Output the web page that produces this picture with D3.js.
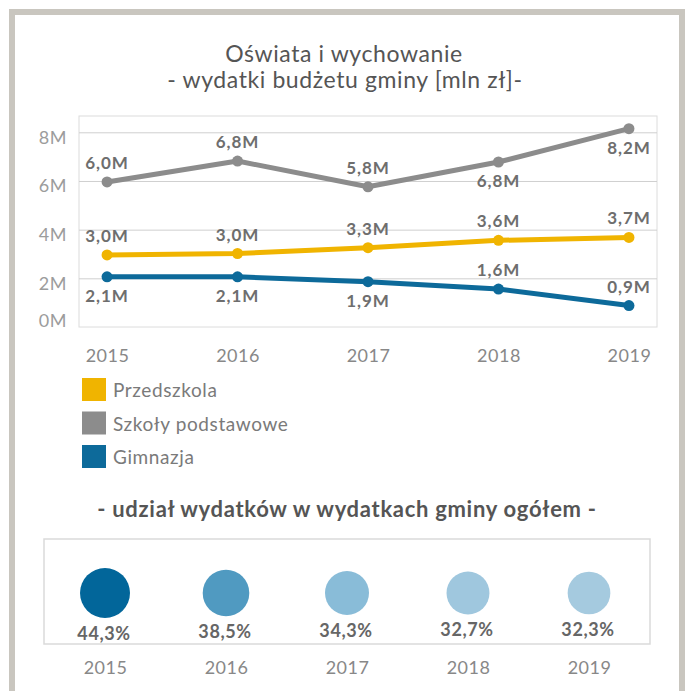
<!DOCTYPE html>
<html>
<head>
<meta charset="utf-8">
<script src="https://cdn.jsdelivr.net/npm/d3@7"></script>
<style>
  body { margin: 0; background: #fff; }
  svg { display: block; font-family: Lato, "Open Sans", sans-serif; }
</style>
</head>
<body>
<div class="chart-container"></div>
<script>
// Data
const years = [2015, 2016, 2017, 2018, 2019];
const przedszkola = [2.96, 3.02, 3.26, 3.56, 3.68];
const szkoly = [5.96, 6.82, 5.76, 6.78, 8.15];
const gimnazja = [2.06, 2.06, 1.86, 1.56, 0.88];
const yTicks = [0, 2, 4, 6, 8];
const udzial = [44.3, 38.5, 34.3, 32.7, 32.3];

const seriesNames = ['Przedszkola', 'Szkoły podstawowe', 'Gimnazja'];

const series = [
    { name: seriesNames[1], values: szkoly, color: '#8c8c8c', pos: ['up', 'up', 'up', 'down', 'down'] },
    { name: seriesNames[0], values: przedszkola, color: '#f0b400', pos: ['up', 'up', 'up', 'up', 'up'] },
    { name: seriesNames[2], values: gimnazja, color: '#0d6a9a', pos: ['down', 'down', 'down', 'up', 'up'] }
];
const legendColors = { 'Przedszkola': '#f0b400', 'Szkoły podstawowe': '#8c8c8c', 'Gimnazja': '#0d6a9a' };

const W = 686, H = 691;
const fmt = v => d3.format('.1f')(v).replace('.', ',');

const svg = d3.select('.chart-container')
    .append('svg')
    .attr('width', W)
    .attr('height', H);

// Outer frame
svg.append('rect')
    .attr('x', 12).attr('y', 12)
    .attr('width', 670).attr('height', 720)
    .attr('fill', 'none')
    .attr('stroke', '#c9c6bf')
    .attr('stroke-width', 6);

// Titles
const title = svg.append('text')
    .attr('text-anchor', 'middle')
    .attr('fill', '#555')
    .style('font-size', '23px')
    .style('letter-spacing', '0.6px');
title.append('tspan').attr('x', 344).attr('y', 62).text('Oświata i wychowanie');
title.append('tspan').attr('x', 345).attr('y', 88).text('- wydatki budżetu gminy [mln zł]-');

// Line chart
const plot = { left: 79, right: 657, top: 116, bottom: 327 };

const xScale = d3.scalePoint()
    .domain(years)
    .range([plot.left, plot.right])
    .padding(0.215);

const yScale = d3.scaleLinear()
    .domain([0, 8.67])
    .range([plot.bottom, plot.top]);

// frame of plot
svg.append('rect')
    .attr('x', plot.left).attr('y', plot.top)
    .attr('width', plot.right - plot.left)
    .attr('height', plot.bottom - plot.top)
    .attr('fill', 'none')
    .attr('stroke', '#dcdcdc');

// gridlines
const grid = svg.append('g')
    .attr('transform', `translate(${plot.left},0)`)
    .call(d3.axisLeft(yScale)
        .tickValues(yTicks.filter(d => d > 0))
        .tickSize(-(plot.right - plot.left))
        .tickFormat(''));
grid.select('.domain').remove();
grid.selectAll('line').attr('stroke', '#cfcfcf');

// y axis labels
const yAxis = svg.append('g')
    .attr('transform', `translate(${plot.left - 12},0)`)
    .call(d3.axisLeft(yScale).tickValues(yTicks).tickSize(0).tickFormat(d => d + 'M'));
yAxis.select('.domain').remove();
yAxis.selectAll('text')
    .attr('x', 0)
    .attr('dy', d => d === 0 ? '-0.05em' : '0.6em')
    .attr('fill', '#9c9c9c')
    .style('font-size', '18px')
    .style('font-family', 'Lato')
    .style('letter-spacing', '0.6px');

// x axis labels
const xAxis = svg.append('g')
    .attr('transform', `translate(0,${plot.bottom})`)
    .call(d3.axisBottom(xScale).tickSize(0));
xAxis.select('.domain').remove();
xAxis.selectAll('text')
    .attr('y', 35)
    .attr('dy', 0)
    .attr('fill', '#888')
    .style('font-size', '18px')
    .style('font-family', 'Lato')
    .style('letter-spacing', '0.5px');

// Lines
const line = d3.line()
    .x((d, i) => xScale(years[i]))
    .y(d => yScale(d));

series.forEach(s => {
    svg.append('path')
        .datum(s.values)
        .attr('d', line)
        .attr('fill', 'none')
        .attr('stroke', s.color)
        .attr('stroke-width', 5)
        .attr('stroke-linejoin', 'round');

    svg.selectAll(null)
        .data(s.values)
        .join('circle')
        .attr('cx', (d, i) => xScale(years[i]))
        .attr('cy', d => yScale(d))
        .attr('r', 5.5)
        .attr('fill', s.color);
});

series.forEach(s => {
    svg.selectAll(null)
        .data(s.values)
        .join('text')
        .attr('x', (d, i) => xScale(years[i]))
        .attr('y', (d, i) => yScale(d) + (s.pos[i] === 'up' ? -13 : 25))
        .attr('text-anchor', 'middle')
        .attr('fill', '#6e6e6e')
        .style('font-size', '17px')
        .style('font-weight', 'bold')
        .style('letter-spacing', '0.9px')
        .text(d => fmt(d) + 'M');
});

// Legend
const legend = svg.append('g')
    .attr('transform', 'translate(82,378)');
const legendItem = legend.selectAll('g')
    .data(seriesNames)
    .join('g')
    .attr('transform', (d, i) => `translate(0,${i * 33.5})`);
legendItem.append('rect')
    .attr('width', 24).attr('height', 23)
    .attr('fill', d => legendColors[d]);
legendItem.append('text')
    .attr('x', 31).attr('y', 19)
    .attr('fill', '#7a7a7a')
    .style('font-size', '19px')
    .style('letter-spacing', '0.6px')
    .text(d => d);

// Share section
svg.append('text')
    .attr('x', 347).attr('y', 517)
    .attr('text-anchor', 'middle')
    .attr('fill', '#555')
    .style('font-size', '22px')
    .style('font-weight', 'bold')
    .style('letter-spacing', '0.7px')
    .text('- udział wydatków w wydatkach gminy ogółem -');

const box = { left: 44, right: 650, top: 539, bottom: 644 };
svg.append('rect')
    .attr('x', box.left).attr('y', box.top)
    .attr('width', box.right - box.left)
    .attr('height', box.bottom - box.top)
    .attr('fill', 'none')
    .attr('stroke', '#dadada')
    .attr('stroke-width', 1.5);

const xShare = d3.scalePoint()
    .domain(years)
    .range([105, 589]);

const rScale = d3.scaleSqrt()
    .domain([0, d3.max(udzial)])
    .range([0, 25]);

const colorScale = d3.scaleLinear()
    .domain([d3.min(udzial), 36, d3.max(udzial)])
    .range(['#a5cadf', '#72b0d2', '#02669a']);

const cy = 593;
svg.selectAll('.share')
    .data(udzial)
    .join('circle')
    .attr('class', 'share')
    .attr('cx', (d, i) => xShare(years[i]))
    .attr('cy', cy)
    .attr('r', d => rScale(d))
    .attr('fill', d => colorScale(d));

svg.selectAll('.share-label')
    .data(udzial)
    .join('text')
    .attr('class', 'share-label')
    .attr('x', (d, i) => xShare(years[i]) - 1)
    .attr('y', d => cy + rScale(d) + 22)
    .attr('text-anchor', 'middle')
    .attr('fill', '#666')
    .style('font-size', '18px')
    .style('font-weight', 'bold')
    .style('letter-spacing', '0.6px')
    .text(d => fmt(d) + '%');

const xShareAxis = svg.append('g')
    .attr('transform', `translate(0,${box.bottom})`)
    .call(d3.axisBottom(xShare).tickSize(0));
xShareAxis.select('.domain').remove();
xShareAxis.selectAll('text')
    .attr('y', 30)
    .attr('dy', 0)
    .attr('fill', '#888')
    .style('font-size', '18px')
    .style('font-family', 'Lato')
    .style('letter-spacing', '0.5px');
</script>
</body>
</html>
